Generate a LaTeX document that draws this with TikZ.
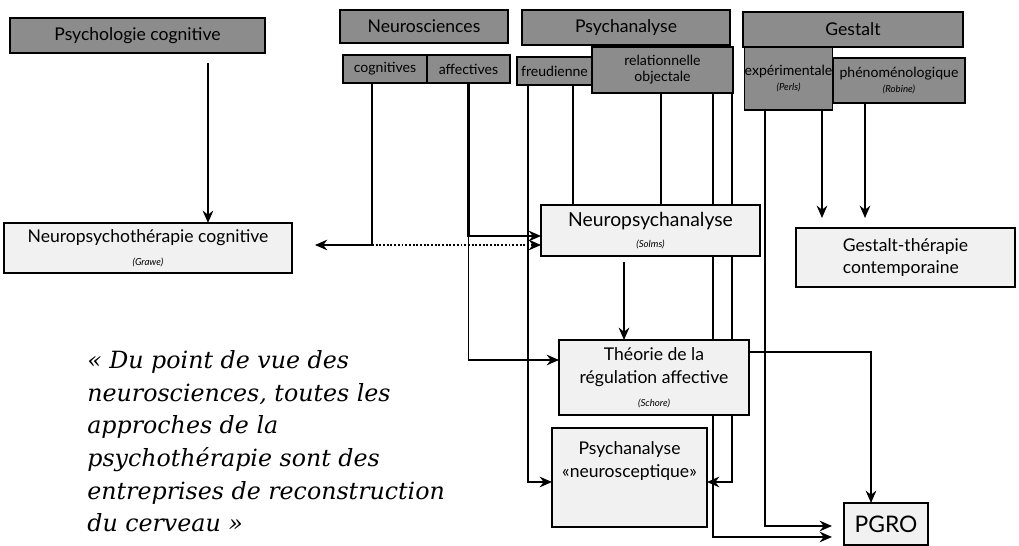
\documentclass[tikz,border=0pt]{standalone}
\usepackage{fontspec}
\setmainfont{Lato}
\newfontfamily\quotefont{DejaVu Serif}
\usetikzlibrary{arrows.meta,calc,positioning}
\pgfdeclarelayer{bg}
\pgfsetlayers{bg,main}
\definecolor{HeadGray}{RGB}{140,140,140}
\definecolor{SoftGray}{RGB}{241,241,241}
\newcommand{\whoname}[1]{{\fontsize{5.5}{6.5}\selectfont\itshape(#1)}}

\begin{document}
\begin{tikzpicture}[
  x=0.02cm, y=-0.02cm,
  font=\fontsize{10}{13}\selectfont,
  >={Stealth[length=7pt,width=6pt]},
  head/.style={draw, fill=HeadGray, line width=0.9pt, inner sep=0pt, outer sep=0pt, align=center},
  sub/.style={head, font=\fontsize{8}{9}\selectfont},
  soft/.style={draw, fill=SoftGray, line width=0.9pt, inner sep=0pt, outer sep=0pt, align=center},
  link/.style={line width=1.1pt},
  arr/.style={link, ->},
]
  \useasboundingbox (0,0) rectangle (1019,546);

  % source fields
  \node[head, minimum width=5.1cm, minimum height=0.7cm] (psycog) at (137.5,35.5) {Psychologie cognitive};
  \node[head, minimum width=3.36cm, minimum height=0.66cm] (neuro) at (424,26.5) {Neurosciences};
  \node[sub, minimum width=1.68cm, minimum height=0.56cm] (cogn) at (385,69) {cognitives};
  \node[sub, minimum width=1.66cm, minimum height=0.56cm] (affe) at (468.5,69) {affectives};
  \node[head, minimum width=4.16cm, minimum height=0.7cm] (psya) at (626,27.5) {Psychanalyse};
  \node[sub, minimum width=1.5cm, minimum height=0.56cm] (freud) at (554.5,71) {freudienne};
  \node[sub, minimum width=2.82cm, minimum height=0.92cm] (relob) at (662.5,70) {relationnelle\\objectale};
  \node[head, minimum width=4.4cm, minimum height=0.7cm] (gest) at (853,29.5) {Gestalt};
  \node[sub, minimum width=1.74cm, minimum height=1.26cm] (perls) at (788.5,78.5) {expérimentale\\\whoname{Perls}};
  \node[sub, minimum width=2.64cm, minimum height=0.9cm] (pheno) at (899,80.5) {phénoménologique\\\whoname{Robine}};

  % resulting approaches
  \node[soft, minimum width=5.76cm, minimum height=1cm] (npc) at (148,248) {Neuropsychothérapie cognitive\\\whoname{Grawe}};
  \node[soft, minimum width=4.38cm, minimum height=1.02cm, font=\fontsize{11}{12}\selectfont] (npa) at (650.5,230.5) {Neuropsychanalyse\\\whoname{Solms}};
  \node[soft, minimum width=4.38cm, minimum height=1.18cm, align=left] (gtc) at (905.5,257.5) {Gestalt-thérapie\\contemporaine};
  \node[soft, minimum width=3.8cm, minimum height=1.5cm] (tra) at (654,377.5) {Théorie de la\\régulation affective\\\whoname{Schore}};
  \node[soft, minimum width=3.1cm, minimum height=1.98cm] (pns) at (629.5,477.5) {Psychanalyse\\«neurosceptique»\\[7.5pt]\mbox{}};
  \node[soft, minimum width=1.68cm, minimum height=0.84cm, font=\fontsize{13}{14}\selectfont] (pgro) at (886,524) {PGRO};

  % quote
  \node[anchor=north west, align=left, inner sep=0pt, font=\quotefont\itshape\fontsize{13.5}{18.6}\selectfont] (quote) at (87,350)
    {« Du point de vue des\\neurosciences, toutes les\\approches de la\\psychothérapie sont des\\entreprises de reconstruction\\du cerveau »};

  \begin{pgfonlayer}{bg}
    % psychologie cognitive
    \draw[arr] ([xshift=1.41cm,yshift=-0.2cm]psycog.south) -- ([xshift=1.41cm]psycog.south |- npc.north);

    % neurosciences cognitives
    \coordinate (cj) at (372,245);
    \draw[link] ([xshift=-0.26cm]cogn.south) -- (cj);
    \draw[arr, shorten >=0.46cm] (cj) -- (npc.east |- cj);
    \draw[arr, densely dotted, line width=1.4pt] (cj) -- (npa.west |- cj);

    % neurosciences affectives
    \draw[arr, line width=1.6pt] (affe.south) |- ([yshift=-0.11cm]npa.west);
    \draw[arr] (affe.south) |- ([yshift=0.35cm]tra.west);

    % psychanalyse
    \draw[arr] ([xshift=-0.53cm]freud.south) |- ([yshift=-0.09cm]pns.west);
    \draw[link, line width=1.6pt] ([xshift=0.37cm]freud.south) -- ([xshift=0.37cm]freud.south |- npa.north);
    \draw[link] ([xshift=-0.03cm]relob.south) -- ([xshift=-0.03cm]relob.south |- npa.north);
    \draw[arr, shorten >=0.24cm] ([xshift=1.01cm]relob.south) |- ([yshift=-0.26cm]pgro.west);
    \draw[arr] ([xshift=1.39cm]relob.south) |- ([yshift=-0.09cm]pns.east);

    % gestalt
    \draw[arr, shorten >=0.24cm] ([xshift=-0.47cm]perls.south) |- ([yshift=-0.04cm]pgro.west);
    \draw[arr, shorten >=0.2cm] ([xshift=0.67cm]perls.south) -- ([xshift=0.67cm]perls.south |- gtc.north);
    \draw[arr, shorten >=0.2cm] ([xshift=-0.68cm]pheno.south) -- ([xshift=-0.68cm]pheno.south |- gtc.north);

    % Solms -> Schore -> PGRO
    \draw[arr, line width=1.6pt] ([xshift=-0.53cm,yshift=-0.12cm]npa.south) -- ([xshift=-0.53cm]npa.south |- tra.north);
    \draw[arr] ([yshift=0.51cm]tra.east) -| ([xshift=-0.3cm]pgro.north);
  \end{pgfonlayer}
\end{tikzpicture}
\end{document}
